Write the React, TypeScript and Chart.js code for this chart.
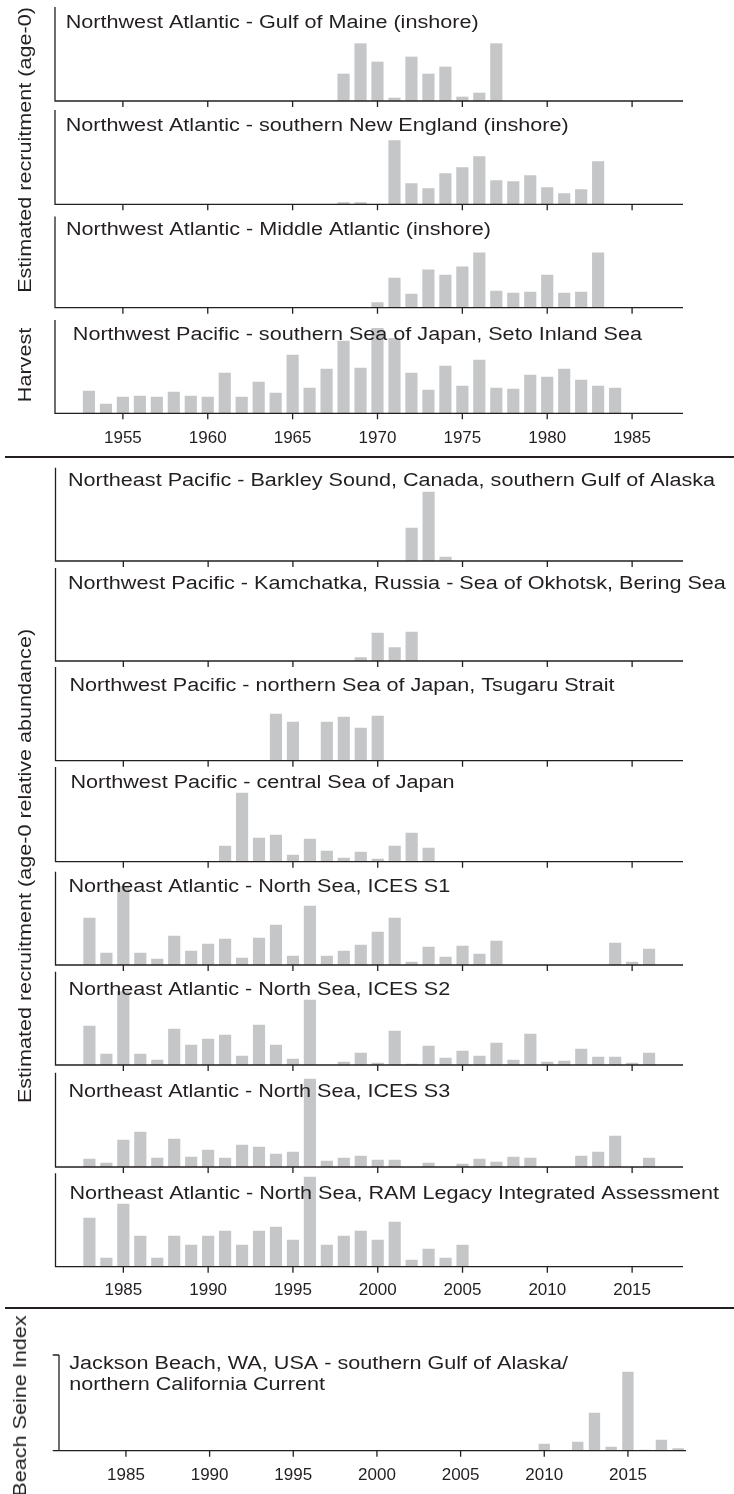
import React, { useEffect, useRef } from "react";
import { Chart, registerables } from "chart.js";

Chart.register(...registerables);

const W = 734;
const H = 1494;
const FONT = '"Liberation Sans", Arial, Helvetica, sans-serif';
const INK = "#231f20";
const BAR = "#c5c6c8";
const STRETCH = 1.2; // the figure's lettering is wider than plain Arial

// tick labels
const TICKS_EARLY = [1955, 1960, 1965, 1970, 1975, 1980, 1985];
const TICKS_LATE = [1985, 1990, 1995, 2000, 2005, 2010, 2015];

// series: first year + one value per year (null = no bar), relative units
const gulfMaineStart = 1968;
const gulfMaine = [81, 172, 117, 9, 132, 81, 102, 12, 24, 172];

const newEnglandStart = 1968;
const newEngland = [5, 5, null, 191, 62, 47, 92, 110, 143, 71, 68, 86, 50, 32, 44, 128];

const midAtlanticStart = 1970;
const midAtlantic = [15, 89, 41, 113, 98, 122, 164, 50, 44, 47, 98, 44, 47, 164];

const setoHarvestStart = 1953;
const setoHarvest = [
  67, 28, 49, 52, 49, 64, 52, 49, 121, 49, 94, 61, 175, 76, 133, 217,
  136, 255, 225, 121, 70, 142, 82, 160, 76, 73, 115, 109, 133, 100, 82, 76,
];

const barkleyStart = 2002;
const barkley = [99, 207, 12];

const kamchatkaStart = 1999;
const kamchatka = [10, 84, 40, 87];

const northSojStart = 1994;
const northSoj = [140, 116, null, 116, 131, 98, 134];

const centralSojStart = 1991;
const centralSoj = [47, 206, 71, 80, 20, 68, 32, 11, 29, 8, 47, 86, 41];

const icesS1Start = 1983;
const icesS1 = [
  141, 36, 237, 36, 18, 87, 42, 63, 78, 21, 81, 120, 27, 177, 27, 42, 60,
  99, 141, 9, 54, 24, 57, 33, 72, null, null, null, null, null, null, 66, 9, 48,
];

const icesS2Start = 1983;
const icesS2 = [
  117, 33, 220, 33, 15, 108, 60, 78, 90, 27, 120, 60, 18, 195, null, 9, 36,
  6, 102, 3, 57, 21, 42, 27, 66, 15, 93, 9, 12, 48, 24, 24, 6, 36,
];

const icesS3Start = 1983;
const icesS3 = [
  24, 12, 81, 105, 27, 84, 30, 51, 27, 66, 60, 39, 45, 264, 18, 27, 33,
  21, 21, null, 12, null, 9, 24, 15, 30, 27, null, null, 33, 45, 93, null, 27,
];

const ramLegacyStart = 1983;
const ramLegacy = [
  146, 26, 188, 92, 26, 92, 65, 92, 107, 65, 107, 119, 80, 269, 65, 92,
  107, 80, 134, 20, 53, 26, 65,
];

const jacksonStart = 2010;
const jackson = [20, null, 26, 113, 11, 236, 2, 32, 6];

interface PanelSpec {
  id: string;
  title: string[];
  titleX: number;
  titleY: number;
  start: number;
  values: (number | null)[];
  top: number;
  bottom: number;
  yMax: number;
  left: number;
  right: number;
  xMin: number;
  xMax: number;
  ticks: number[];
  bar: number;
  labelY?: number;
  axisFrom?: number;
  topTick?: boolean;
}

const EARLY = { left: 55, right: 683, xMin: 1951, xMax: 1988, ticks: TICKS_EARLY, bar: 11.5 };
const LATE = { left: 55.5, right: 683, xMin: 1981, xMax: 2018, ticks: TICKS_LATE, bar: 11.5 };
const BEACH = {
  left: 59, right: 686, xMin: 1981, xMax: 2018.47, ticks: TICKS_LATE, bar: 10.7,
  axisFrom: 52.7, topTick: true,
};

const PANELS: PanelSpec[] = [
  { id: "gom", ...EARLY, title: ["Northwest Atlantic - Gulf of Maine (inshore)"], titleX: 65.7, titleY: 22,
    start: gulfMaineStart, values: gulfMaine, top: 7, bottom: 101, yMax: 282 },
  { id: "sne", ...EARLY, title: ["Northwest Atlantic - southern New England (inshore)"], titleX: 65.7, titleY: 125,
    start: newEnglandStart, values: newEngland, top: 110, bottom: 204.3, yMax: 283 },
  { id: "mab", ...EARLY, title: ["Northwest Atlantic - Middle Atlantic (inshore)"], titleX: 66, titleY: 228.3,
    start: midAtlanticStart, values: midAtlantic, top: 216.5, bottom: 307.7, yMax: 273 },
  { id: "seto", ...EARLY, title: ["Northwest Pacific - southern Sea of Japan, Seto Inland Sea"], titleX: 72.8, titleY: 334,
    start: setoHarvestStart, values: setoHarvest, top: 320, bottom: 413.3, yMax: 280, labelY: 436.7 },

  { id: "bark", ...LATE, title: ["Northeast Pacific - Barkley Sound, Canada, southern Gulf of Alaska"], titleX: 68, titleY: 479.5,
    start: barkleyStart, values: barkley, top: 467.7, bottom: 561, yMax: 280 },
  { id: "kam", ...LATE, title: ["Northwest Pacific - Kamchatka, Russia - Sea of Okhotsk, Bering Sea"], titleX: 68, titleY: 582.8,
    start: kamchatkaStart, values: kamchatka, top: 568, bottom: 661, yMax: 279 },
  { id: "nsoj", ...LATE, title: ["Northwest Pacific - northern Sea of Japan, Tsugaru Strait"], titleX: 69.5, titleY: 685,
    start: northSojStart, values: northSoj, top: 667, bottom: 760.7, yMax: 281 },
  { id: "csoj", ...LATE, title: ["Northwest Pacific - central Sea of Japan"], titleX: 70.4, titleY: 781.7,
    start: centralSojStart, values: centralSoj, top: 767, bottom: 861.7, yMax: 284 },
  { id: "s1", ...LATE, title: ["Northeast Atlantic - North Sea, ICES S1"], titleX: 68.5, titleY: 886,
    start: icesS1Start, values: icesS1, top: 871.7, bottom: 965, yMax: 280 },
  { id: "s2", ...LATE, title: ["Northeast Atlantic - North Sea, ICES S2"], titleX: 68.5, titleY: 988.3,
    start: icesS2Start, values: icesS2, top: 971.7, bottom: 1065, yMax: 280 },
  { id: "s3", ...LATE, title: ["Northeast Atlantic - North Sea, ICES S3"], titleX: 68.5, titleY: 1090.3,
    start: icesS3Start, values: icesS3, top: 1072.7, bottom: 1167, yMax: 283 },
  { id: "ram", ...LATE, title: ["Northeast Atlantic - North Sea, RAM Legacy Integrated Assessment"], titleX: 69.5, titleY: 1193,
    start: ramLegacyStart, values: ramLegacy, top: 1173.3, bottom: 1266.7, yMax: 280, labelY: 1289.3 },

  { id: "jack", ...BEACH,
    title: ["Jackson Beach, WA, USA - southern Gulf of Alaska/", "northern California Current"],
    titleX: 69.3, titleY: 1362.8,
    start: jacksonStart, values: jackson, top: 1355, bottom: 1450.7, yMax: 287, labelY: 1474 },
];

function Panel({ spec }: { spec: PanelSpec }) {
  const ref = useRef<HTMLCanvasElement | null>(null);
  const canvasTop = Math.floor(spec.top) - 12;
  const canvasH = Math.ceil(spec.bottom) + 44 - canvasTop;

  useEffect(() => {
    if (!ref.current) return;
    const points = spec.values
      .map((v, i) => (v == null ? null : { x: spec.start + i, y: v }))
      .filter((p): p is { x: number; y: number } => p !== null);

    const frame = {
      id: "frame-" + spec.id,
      afterDatasetsDraw(chart: Chart) {
        const ctx = chart.ctx;
        const xs = chart.scales.x;
        const b = spec.bottom - canvasTop;
        const t = spec.top - canvasTop;
        ctx.save();
        ctx.strokeStyle = INK;
        ctx.lineWidth = 1.3;
        ctx.beginPath();
        ctx.moveTo(spec.left, t);
        ctx.lineTo(spec.left, b);
        ctx.moveTo(spec.axisFrom ?? spec.left - 0.65, b);
        ctx.lineTo(spec.right, b);
        if (spec.topTick) {
          ctx.moveTo(spec.axisFrom ?? spec.left, t);
          ctx.lineTo(spec.left, t);
        }
        spec.ticks.forEach((tk) => {
          const px = xs.getPixelForValue(tk);
          ctx.moveTo(px, b);
          ctx.lineTo(px, b + 6);
        });
        ctx.stroke();

        ctx.fillStyle = INK;
        if (spec.labelY) {
          ctx.font = `17px ${FONT}`;
          ctx.textAlign = "center";
          ctx.textBaseline = "alphabetic";
          spec.ticks.forEach((tk) => {
            ctx.fillText(String(tk), xs.getPixelForValue(tk), spec.labelY! + 6.1 - canvasTop);
          });
        }

        ctx.font = `18px ${FONT}`;
        ctx.textAlign = "left";
        ctx.textBaseline = "alphabetic";
        spec.title.forEach((line, i) => {
          ctx.save();
          ctx.translate(spec.titleX, spec.titleY + i * 20.5 + 6.4 - canvasTop);
          ctx.scale(STRETCH, 1);
          ctx.fillText(line, 0, 0);
          ctx.restore();
        });
        ctx.restore();
      },
    };

    const chart = new Chart(ref.current, {
      type: "bar",
      data: {
        datasets: [
          {
            data: points,
            backgroundColor: BAR,
            borderWidth: 0,
            barThickness: spec.bar,
          },
        ],
      },
      options: {
        responsive: false,
        animation: false,
        events: [],
        layout: {
          padding: {
            left: spec.left,
            right: W - spec.right,
            top: spec.top - canvasTop,
            bottom: canvasTop + canvasH - spec.bottom,
          },
        },
        plugins: {
          legend: { display: false },
          tooltip: { enabled: false },
        },
        scales: {
          x: { type: "linear", min: spec.xMin, max: spec.xMax, offset: false, display: false },
          y: { min: 0, max: spec.yMax, display: false },
        },
      },
      plugins: [frame],
    });

    return () => chart.destroy();
  }, [spec]);

  return (
    <canvas
      ref={ref}
      width={W}
      height={canvasH}
      style={{ position: "absolute", left: 0, top: canvasTop, width: W, height: canvasH }}
    />
  );
}

function SideLabel({ text, baseX, cy }: { text: string; baseX: number; cy: number }) {
  return (
    <div
      style={{
        position: "absolute",
        left: baseX - 6.24,
        top: cy,
        transform: `translate(-50%, -50%) rotate(-90deg) scaleX(${STRETCH})`,
        font: `18px ${FONT}`,
        lineHeight: "18px",
        whiteSpace: "nowrap",
        color: INK,
      }}
    >
      {text}
    </div>
  );
}

export default function App() {
  return (
    <div
      style={{
        position: "absolute",
        left: 0,
        top: 0,
        width: W,
        height: H,
        background: "#fff",
        overflow: "hidden",
      }}
    >
      {PANELS.map((p) => (
        <Panel key={p.id} spec={p} />
      ))}
      <div style={{ position: "absolute", left: 5, top: 456, width: W - 5, height: 2.2, background: INK }} />
      <div style={{ position: "absolute", left: 5, top: 1307.2, width: W - 5, height: 2.2, background: INK }} />
      <SideLabel text="Estimated recruitment (age-0)" baseX={31} cy={150} />
      <SideLabel text="Harvest" baseX={31} cy={365} />
      <SideLabel text="Estimated recruitment (age-0 relative abundance)" baseX={31} cy={866} />
      <SideLabel text="Beach Seine Index" baseX={26} cy={1406} />
    </div>
  );
}
